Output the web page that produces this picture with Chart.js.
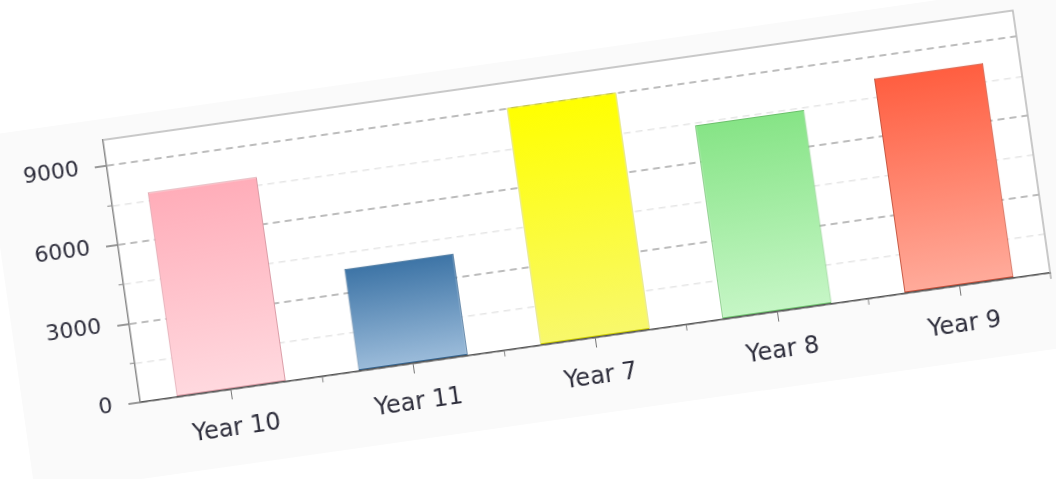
<!DOCTYPE html>
<html>
<head>
<meta charset="utf-8">
<script src="https://cdn.jsdelivr.net/npm/chart.js@4.4.1/dist/chart.umd.min.js"></script>
<style>
  html, body { margin: 0; padding: 0; background: #fff; width: 1056px; height: 479px; overflow: hidden; }
  #card {
    position: absolute; left: 0; top: 53px; width: 1090px; height: 362px;
    background: #fafafa;
    transform-origin: 576px 153px;
    transform: rotate(-8.1deg);
  }
  canvas { display: block; }
</style>
</head>
<body>
<div id="card"><canvas id="yearChart" width="1090" height="357"></canvas></div>
<script>
const categories = ['Year 10', 'Year 11', 'Year 7', 'Year 8', 'Year 9'];
const students = [7800, 3900, 9050, 7400, 8200];
const yTicks = [0, 1500, 3000, 4500, 6000, 7500, 9000];
const yTickLabels = [0, 3000, 6000, 9000];

// bar styles
const topColors = ['#ffadb9', '#3d74a6', '#ffff00', '#86e486', '#ff5e40'];
const bottomColors = ['#ffd9df', '#9cbcda', '#f8f86c', '#c6f6c6', '#ffab9b'];
const edgeColors = ['#d99aa4', '#35648f', '#c9c900', '#6cc06c', '#c4503a'];

const labelColor = '#2e2e3c';

function barFill(c) {
  const chart = c.chart;
  const i = c.dataIndex;
  if (!chart.chartArea || i === undefined) return topColors[i] || '#ccc';
  const y = chart.scales.y;
  const g = chart.ctx.createLinearGradient(0, y.getPixelForValue(c.raw), 0, y.getPixelForValue(0));
  g.addColorStop(0, topColors[i]);
  g.addColorStop(1, bottomColors[i]);
  return g;
}

// white plot area, top/right frame, minor ticks
const frame = {
  id: 'frame',
  beforeDraw(chart) {
    const { ctx, chartArea: a } = chart;
    ctx.save();
    ctx.fillStyle = '#ffffff';
    ctx.fillRect(a.left, a.top, a.right - a.left, a.bottom - a.top);
    ctx.restore();
  },
  beforeDatasetsDraw(chart) {
    const { ctx, chartArea: a, scales: { x, y } } = chart;
    ctx.save();
    ctx.strokeStyle = '#b8b8b8';
    ctx.lineWidth = 1.5;
    ctx.beginPath();
    ctx.moveTo(a.left, a.top);
    ctx.lineTo(a.right, a.top);
    ctx.lineTo(a.right, a.bottom);
    ctx.stroke();

    ctx.strokeStyle = '#888';
    ctx.lineWidth = 1;
    ctx.beginPath();
    y.ticks.forEach(t => {
      if (!yTickLabels.includes(t.value)) {
        const p = y.getPixelForValue(t.value);
        ctx.moveTo(a.left - 5, p);
        ctx.lineTo(a.left, p);
      }
    });
    for (let i = 1; i < categories.length; i++) {
      const p = (x.getPixelForValue(i - 1) + x.getPixelForValue(i)) / 2;
      ctx.moveTo(p, a.bottom);
      ctx.lineTo(p, a.bottom + 6);
    }
    ctx.moveTo(a.right, a.bottom);
    ctx.lineTo(a.right, a.bottom + 6);
    ctx.stroke();
    ctx.restore();
  }
};

const yearChart = new Chart(document.getElementById('yearChart'), {
  type: 'bar',
  data: {
    labels: categories,
    datasets: [{
      data: students,
      backgroundColor: barFill,
      borderColor: edgeColors,
      borderWidth: 1,
      borderSkipped: false,
      barPercentage: 0.6,
      categoryPercentage: 1
    }]
  },
  options: {
    responsive: false,
    animation: false,
    devicePixelRatio: 1,
    layout: { padding: { top: 21, right: 54, left: 0, bottom: 0 } },
    plugins: { legend: { display: false }, tooltip: { enabled: false } },
    scales: {
      x: {
        afterFit: s => { s.height = 71; s.paddingLeft = 0; s.paddingRight = 0; },
        grid: { drawOnChartArea: false, offset: false, tickLength: 10, tickColor: '#777' },
        border: { color: '#555', width: 1.5 },
        ticks: { font: { family: 'DejaVu Sans', size: 24 }, color: labelColor, padding: 15, autoSkip: false, maxRotation: 0 }
      },
      y: {
        min: 0,
        max: 10000,
        afterFit: s => { s.width = 117; s.paddingTop = 0; s.paddingBottom = 0; },
        afterBuildTicks: s => { s.ticks = yTicks.map(v => ({ value: v })); },
        grid: {
          color: c => yTickLabels.includes(c.tick.value) ? '#bcbcbc' : '#e6e6e6',
          lineWidth: c => yTickLabels.includes(c.tick.value) ? 2 : 1.5,
          tickLength: 12,
          tickWidth: 1.5,
          tickColor: c => yTickLabels.includes(c.tick.value) ? '#777' : 'rgba(0,0,0,0)'
        },
        border: { color: '#888', width: 1.5, dash: [7, 5] },
        ticks: {
          autoSkip: false,
          font: { family: 'DejaVu Sans', size: 22 },
          color: labelColor,
          padding: 16,
          callback: v => yTickLabels.includes(v) ? String(v) : ''
        }
      }
    }
  },
  plugins: [frame]
});
</script>
</body>
</html>
